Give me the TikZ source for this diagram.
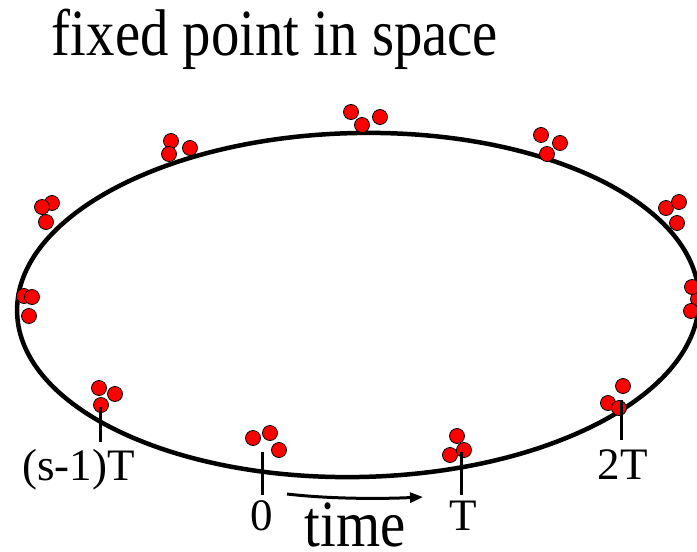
\documentclass[tikz,border=0pt]{standalone}
\usepackage{fontspec}
\setmainfont{Liberation Serif}
\usepackage{graphicx}
\usetikzlibrary{arrows.meta}

\begin{document}
\begin{tikzpicture}[
    x=1pt, y=-1pt,
    orbit/.style={draw=black, line width=4.5pt},
    dot/.style={fill=red, draw=black, line width=0.8pt},
    tickmark/.style={draw=black, line width=3pt},
    flow/.style={-{Triangle[length=13pt,width=10pt]}, line width=3pt, draw=black},
    biglabel/.style={inner sep=0pt, anchor=base, font=\fontsize{66}{70}\selectfont},
    ticklabel/.style={inner sep=0pt, anchor=base, font=\fontsize{45}{50}\selectfont}
]
\useasboundingbox (0,0) rectangle (697,552);

\node[biglabel] (title) at (275,55) {\scalebox{0.86}[1]{fixed point in space}};

\draw[orbit] (358,305) ellipse [x radius=341, y radius=172, rotate=1.2];

\foreach \px/\py in {171/141, 190/148, 169/154,
                     52/203, 42/207, 46/222,
                     24/296, 32/297, 29/316,
                     99/388, 115/394, 101/405,
                     253/438, 270/433, 279/450,
                     457/436, 450/455, 464/450,
                     623/386, 608/403, 619/408,
                     666/208, 679/202, 677/223,
                     698/299, 692/287, 691/311,
                     541/135, 560/143, 547/154,
                     351/112, 380/117, 362/125}
    \draw[dot] (\px,\py) circle (7.5);

\coordinate (s1top) at (100,407);
\coordinate (s1bot) at (100,442);
\coordinate (zerotop) at (262,452);
\coordinate (zerobot) at (262,495);
\coordinate (onetop) at (461,452);
\coordinate (onebot) at (461,495);
\coordinate (twotop) at (621,400);
\coordinate (twobot) at (621,440);

\draw[tickmark] (s1top) -- (s1bot);
\draw[tickmark] (zerotop) -- (zerobot);
\draw[tickmark] (onetop) -- (onebot);
\draw[tickmark] (twotop) -- (twobot);

\node[ticklabel] (lbls1) at (78.5,480) {(s-1)T};
\node[ticklabel] (lblzero) at (262,530) {0};
\node[ticklabel] (lblone) at (463,530) {T};
\node[ticklabel] (lbltwo) at (622.5,479) {2T};

\coordinate (timestart) at (287,494);
\coordinate (timeend) at (423,497);
\draw[flow] (timestart) .. controls (330,499) and (380,499) .. (timeend);
\node[biglabel] (timelbl) at (355,546) {\scalebox{0.86}[1]{time}};
\end{tikzpicture}
\end{document}
